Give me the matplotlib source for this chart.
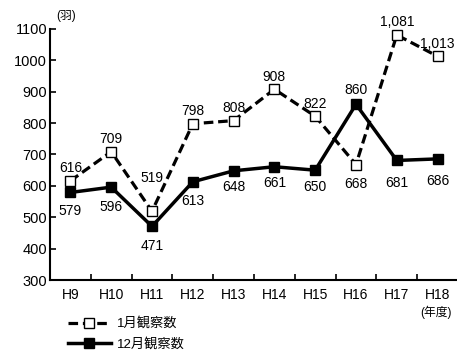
import matplotlib.pyplot as plt

plt.rcParams['font.family'] = ['Liberation Sans', 'Noto Sans CJK JP']

years = ['H9', 'H10', 'H11', 'H12', 'H13', 'H14', 'H15', 'H16', 'H17', 'H18']
jan = [616, 709, 519, 798, 808, 908, 822, 668, 1081, 1013]
dec = [579, 596, 471, 613, 648, 661, 650, 860, 681, 686]
jan_text = ['616', '709', '519', '798', '808', '908', '822', '668', '1,081', '1,013']
dec_text = [str(v) for v in dec]

# label offsets in points (positive = above the marker)
jan_off = [9, 9, 24, 9, 9, 9, 9, -14, 9, 9]
dec_off = [-13, -14, -14, -14, -12, -12, -12, 10, -16, -16]

fig = plt.figure(figsize=(4.57, 3.54), dpi=100)
ax = fig.add_axes([50 / 457, 74 / 354, 408 / 457, 251 / 354])

x = list(range(len(years)))
ax.plot(x, jan, color='black', lw=2.3, dashes=(3, 1.5), marker='s', ms=7.5,
        mfc='white', mec='black', mew=1.0, label='1月観察数', zorder=3)
ax.plot(x, dec, color='black', lw=2.5, marker='s', ms=7.5,
        mfc='black', mec='black', label='12月観察数', zorder=4)

for i in x:
    ax.annotate(jan_text[i], (i, jan[i]), xytext=(0, jan_off[i]),
                textcoords='offset points', ha='center', va='center', fontsize=10)
    ax.annotate(dec_text[i], (i, dec[i]), xytext=(0, dec_off[i]),
                textcoords='offset points', ha='center', va='center', fontsize=10)

ax.set_xlim(-0.5, 9.5)
ax.set_ylim(300, 1100)
ax.set_yticks(range(300, 1101, 100))
ax.set_xticks(x)
ax.set_xticklabels(years, fontsize=10)
ax.tick_params(axis='y', labelsize=10.5, direction='in', length=4, width=1.2, pad=2)
ax.tick_params(axis='x', length=0, pad=6)
ax.set_xticks([i + 0.5 for i in x], minor=True)
ax.tick_params(axis='x', which='minor', direction='in', length=4, width=1.2)

for side in ['top', 'right']:
    ax.spines[side].set_visible(False)
for side in ['left', 'bottom']:
    ax.spines[side].set_linewidth(1.5)

fig.text(56 / 457, 1 - 16 / 354, '(羽)', fontsize=8.5, ha='left', va='center')
fig.text(452 / 457, 1 - 312 / 354, '(年度)', fontsize=8.5, ha='right', va='center')

fig.legend(loc='upper left', bbox_to_anchor=(63 / 457, 1 - 312 / 354),
           frameon=False, fontsize=9.5, handlelength=3.2, labelspacing=0.6,
           borderaxespad=0, handletextpad=0.5)

fig.savefig('out.png', dpi=100)
